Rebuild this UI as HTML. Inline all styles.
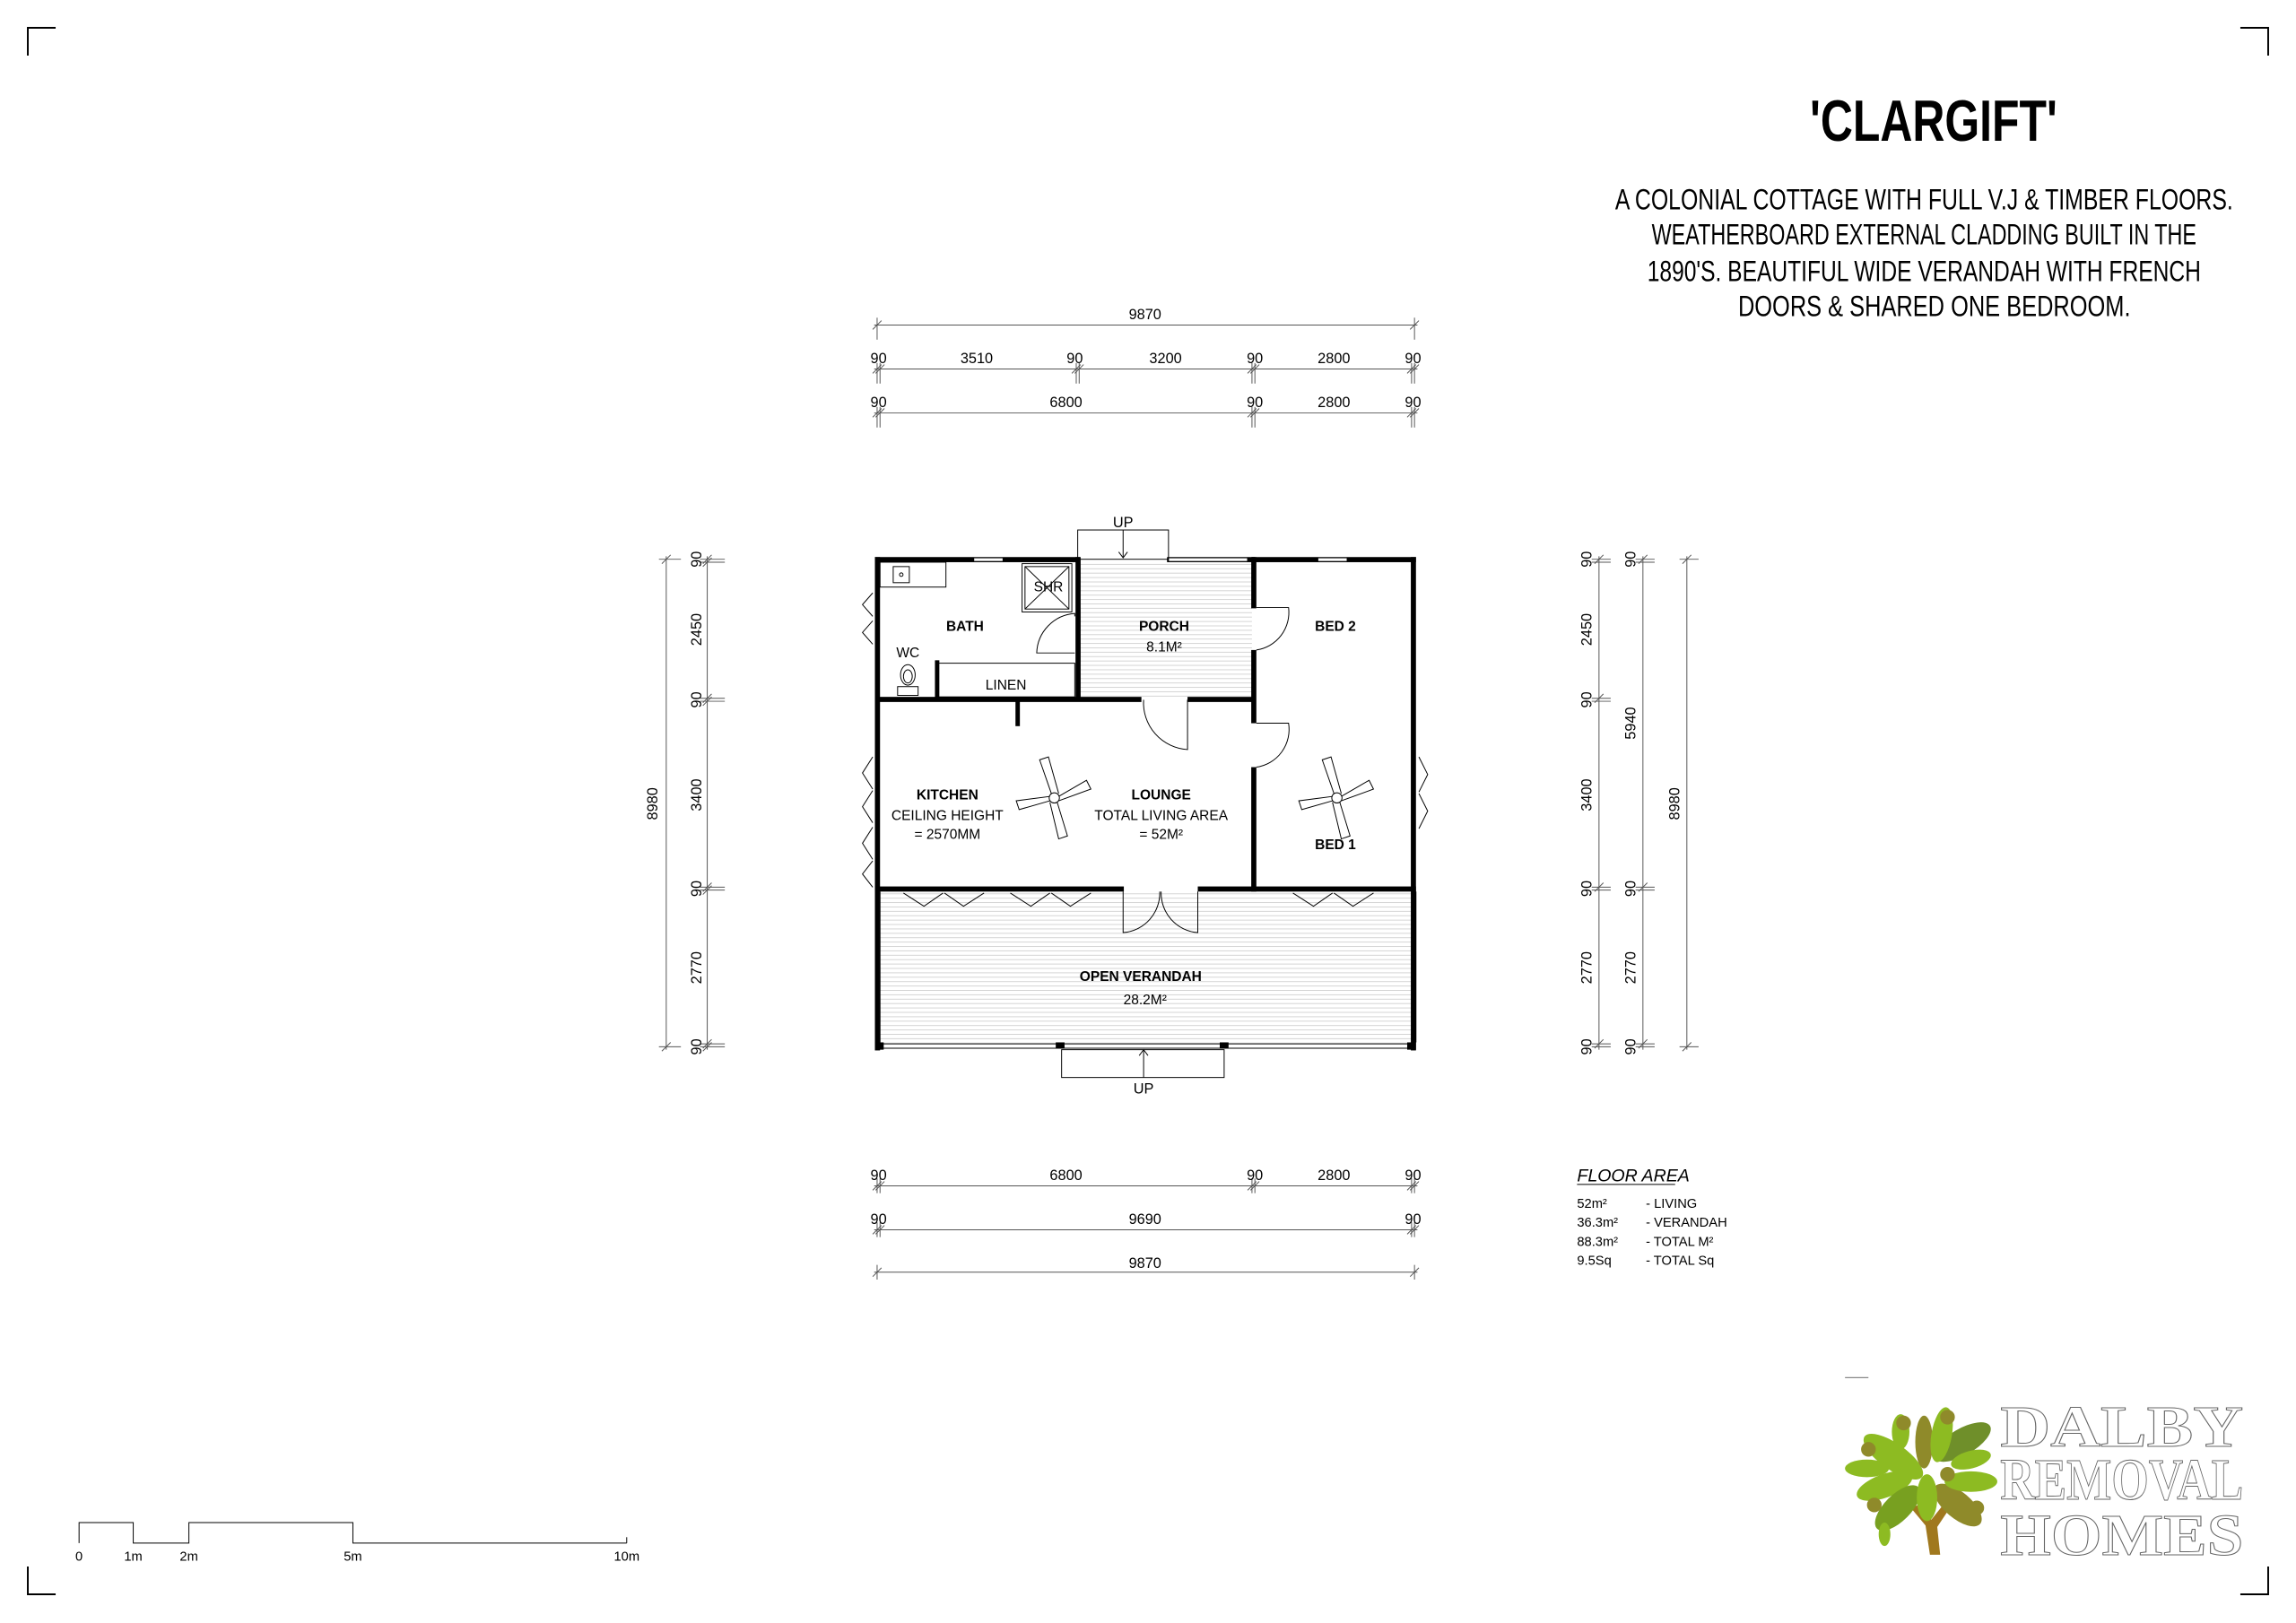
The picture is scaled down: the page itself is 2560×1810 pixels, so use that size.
<!DOCTYPE html>
<html><head><meta charset="utf-8"><style>
html,body{margin:0;padding:0;background:#fff;}
svg{display:block;}
text{font-family:"Liberation Sans Narrow","Liberation Sans",sans-serif;fill:#000;}
text.logo{font-family:"Liberation Serif",serif;fill:#fff;stroke:#666;stroke-width:0.6;font-weight:bold;}
</style></head><body>
<svg width="2560" height="1810" viewBox="0 0 1568 1108.6" xmlns="http://www.w3.org/2000/svg">
<defs>
<pattern id="hatch" width="4" height="3" patternUnits="userSpaceOnUse"><line x1="0" y1="1.5" x2="4" y2="1.5" stroke="#d4d4d4" stroke-width="0.6"/></pattern>
</defs>
<rect x="0" y="0" width="1568" height="1108.6" fill="#fff"/>
<g stroke="#000" stroke-width="1.2" fill="none">
<path d="M19 38V19H38"/><path d="M1530 19H1549V38"/><path d="M19 1070V1089H38"/><path d="M1530 1089H1549V1070"/>
</g>
<text x="1236" y="96" font-size="40" font-weight="bold" textLength="169" lengthAdjust="spacingAndGlyphs">'CLARGIFT'</text>
<g font-size="20">
<text x="1103" y="143" textLength="422" lengthAdjust="spacingAndGlyphs">A COLONIAL COTTAGE WITH FULL V.J &amp; TIMBER FLOORS.</text>
<text x="1128" y="167" textLength="372" lengthAdjust="spacingAndGlyphs">WEATHERBOARD EXTERNAL CLADDING BUILT IN THE</text>
<text x="1125" y="192" textLength="378" lengthAdjust="spacingAndGlyphs">1890'S. BEAUTIFUL WIDE VERANDAH WITH FRENCH</text>
<text x="1187" y="216" textLength="268" lengthAdjust="spacingAndGlyphs">DOORS &amp; SHARED ONE BEDROOM.</text>
</g>
<g stroke="#555" stroke-width="0.6" fill="none">
<line x1="597" y1="222" x2="968" y2="222"/><line x1="599" y1="217" x2="599" y2="232"/><line x1="966" y1="217" x2="966" y2="232"/>
<line x1="597" y1="252" x2="968" y2="252"/><line x1="597" y1="282" x2="968" y2="282"/>
<path d="M599 248V262M601 248V262M735 248V262M737 248V262M855 248V262M857 248V262M964 248V262M966 248V262"/>
<path d="M599 278V292M601 278V292M855 278V292M857 278V292M964 278V292M966 278V292"/>
<path d="M596 225l6-6M963 225l6-6M596 255l6-6M598 255l6-6M732 255l6-6M734 255l6-6M852 255l6-6M854 255l6-6M961 255l6-6M963 255l6-6M596 285l6-6M598 285l6-6M852 285l6-6M854 285l6-6M961 285l6-6M963 285l6-6"/>
<line x1="597" y1="810" x2="968" y2="810"/><line x1="597" y1="840" x2="968" y2="840"/><line x1="597" y1="869" x2="968" y2="869"/>
<path d="M599 805V815M601 805V815M855 805V815M857 805V815M964 805V815M966 805V815M599 835V845M601 835V845M964 835V845M966 835V845M599 864V874M966 864V874"/>
<path d="M596 813l6-6M598 813l6-6M852 813l6-6M854 813l6-6M961 813l6-6M963 813l6-6M596 843l6-6M598 843l6-6M961 843l6-6M963 843l6-6M596 872l6-6M963 872l6-6"/>
<line x1="483" y1="380" x2="483" y2="717"/><line x1="455" y1="380" x2="455" y2="717"/>
<path d="M478 382H495M478 384H495M478 477H495M478 479H495M478 606H495M478 608H495M478 713H495M478 715H495M450 382H465M450 715H465"/>
<path d="M480 385l6-6M480 387l6-6M480 480l6-6M480 482l6-6M480 609l6-6M480 611l6-6M480 716l6-6M480 718l6-6M452 385l6-6M452 718l6-6"/>
<line x1="1092" y1="380" x2="1092" y2="717"/><line x1="1122" y1="380" x2="1122" y2="717"/><line x1="1152" y1="380" x2="1152" y2="717"/>
<path d="M1087 382H1100M1087 384H1100M1087 477H1100M1087 479H1100M1087 606H1100M1087 608H1100M1087 713H1100M1087 715H1100M1117 382H1130M1117 384H1130M1117 606H1130M1117 608H1130M1117 713H1130M1117 715H1130M1147 382H1160M1147 715H1160"/>
<path d="M1089 385l6-6M1089 480l6-6M1089 609l6-6M1089 716l6-6M1119 385l6-6M1119 609l6-6M1119 716l6-6M1149 385l6-6M1149 718l6-6"/>
</g>
<g font-size="10" text-anchor="middle">
<text x="782" y="218">9870</text>
<text x="600" y="248">90</text><text x="667" y="248">3510</text><text x="734" y="248">90</text><text x="796" y="248">3200</text><text x="857" y="248">90</text><text x="911" y="248">2800</text><text x="965" y="248">90</text>
<text x="600" y="278">90</text><text x="728" y="278">6800</text><text x="857" y="278">90</text><text x="911" y="278">2800</text><text x="965" y="278">90</text>
<text x="600" y="806">90</text><text x="728" y="806">6800</text><text x="857" y="806">90</text><text x="911" y="806">2800</text><text x="965" y="806">90</text>
<text x="600" y="836">90</text><text x="782" y="836">9690</text><text x="965" y="836">90</text>
<text x="782" y="866">9870</text>
<text x="767" y="360">UP</text><text x="781" y="747">UP</text>
</g>
<g font-size="10" text-anchor="middle">
<text transform="translate(479,382) rotate(-90)">90</text><text transform="translate(479,430) rotate(-90)">2450</text><text transform="translate(479,478) rotate(-90)">90</text><text transform="translate(479,543) rotate(-90)">3400</text><text transform="translate(479,607) rotate(-90)">90</text><text transform="translate(479,661) rotate(-90)">2770</text><text transform="translate(479,715) rotate(-90)">90</text>
<text transform="translate(449,549) rotate(-90)">8980</text>
<text transform="translate(1087,382) rotate(-90)">90</text><text transform="translate(1087,430) rotate(-90)">2450</text><text transform="translate(1087,478) rotate(-90)">90</text><text transform="translate(1087,543) rotate(-90)">3400</text><text transform="translate(1087,607) rotate(-90)">90</text><text transform="translate(1087,661) rotate(-90)">2770</text><text transform="translate(1087,715) rotate(-90)">90</text>
<text transform="translate(1117,382) rotate(-90)">90</text><text transform="translate(1117,494) rotate(-90)">5940</text><text transform="translate(1117,607) rotate(-90)">90</text><text transform="translate(1117,661) rotate(-90)">2770</text><text transform="translate(1117,715) rotate(-90)">90</text>
<text transform="translate(1147,549) rotate(-90)">8980</text>
</g>
<rect x="737" y="384" width="118" height="93" fill="url(#hatch)"/>
<rect x="601" y="609" width="364" height="105" fill="url(#hatch)"/>
<g fill="#000">
<rect x="597.5" y="380.5" width="140" height="3.5"/>
<rect x="797" y="380.5" width="60" height="3.5"/>
<rect x="855" y="380.5" width="112" height="3.5"/>
<rect x="597.5" y="380.5" width="3.5" height="337"/>
<rect x="963.5" y="380.5" width="3.5" height="337"/>
<rect x="734.5" y="380.5" width="3.5" height="96"/>
<rect x="854.5" y="380.5" width="3.5" height="35"/>
<rect x="854.5" y="444" width="3.5" height="50"/>
<rect x="854.5" y="524" width="3.5" height="85"/>
<rect x="597.5" y="476" width="182" height="3.5"/>
<rect x="811" y="476" width="46" height="3.5"/>
<rect x="597.5" y="605.5" width="170" height="3.5"/>
<rect x="818" y="605.5" width="149" height="3.5"/>
<rect x="638.5" y="451" width="3" height="27"/>
<rect x="693.5" y="478" width="3" height="18"/>
<rect x="597.5" y="712" width="6" height="5"/>
<rect x="961" y="712" width="6" height="5"/>
<rect x="721" y="712" width="6" height="4"/>
<rect x="833" y="712" width="6" height="4"/>
</g>
<g stroke="#000" stroke-width="0.6" fill="none">
<line x1="603" y1="713" x2="961" y2="713"/><line x1="603" y1="716" x2="961" y2="716"/>
<line x1="601" y1="609" x2="601" y2="712"/><line x1="964" y1="609" x2="964" y2="712"/><line x1="967" y1="609" x2="967" y2="712"/>
<rect x="736" y="362" width="62" height="20"/><line x1="767" y1="362" x2="767" y2="381"/><path d="M764 377l3 4 3-4"/>
<rect x="725" y="717" width="111" height="19"/><line x1="781" y1="736" x2="781" y2="717"/><path d="M778 721l3-4 3 4"/>
<rect x="665" y="381" width="20" height="2.5" fill="#fff"/><rect x="798" y="381" width="54" height="2.5" fill="#fff"/><rect x="900" y="381" width="20" height="2.5" fill="#fff"/>
<rect x="601" y="384" width="45" height="17"/><rect x="610" y="387" width="11" height="11"/><circle cx="615.5" cy="392.5" r="1.2"/>
<rect x="640" y="453" width="94" height="23"/>
<rect x="698" y="385" width="34" height="33"/><rect x="700" y="387" width="30" height="29"/><path d="M700 387L730 416M730 387L700 416"/>
<ellipse cx="620" cy="461" rx="5" ry="7"/><ellipse cx="620" cy="462" rx="3" ry="4.5"/><rect x="613" y="469" width="14" height="6"/>
<path d="M734 421v-2a28 28 0 0 0-26 27h26"/>
<path d="M858 415h22a26 26 0 0 1-22 29"/>
<path d="M858 494h22a26 26 0 0 1-22 30"/>
<path d="M811 478V512A32 32 0 0 1 781 478"/>
<path d="M767 609V637A27 27 0 0 0 792 609M818 609V637A27 27 0 0 1 793 609"/>
<path d="M617 608h55M617 610l14 9 13-9M672 610l-14 9-13-9M690 608h55M690 610l14 9 13-9M745 610l-14 9-13-9M883 608h55M883 610l14 9 13-9M938 610l-14 9-13-9"/>
<path d="M599 403V445M596 405l-7 8 7 8M596 424l-7 8 7 8"/>
<path d="M599 515V607M596 517l-7 11 7 11M596 540l-7 11 7 11M596 565l-7 11 7 11M596 588l-7 9 7 9"/>
<path d="M966 515V570M969 517l6 12-6 12M969 542l6 12-6 12"/>
<g transform="translate(720,545)"><circle r="3.5"/><path d="M-2-3L-10-26L-4-28L3-3M3 -1L22-12L25-6L3 2M2 3L9 26L3 28L-3 3M-3 2L-24 8L-26 2L-3-1"/></g>
<g transform="translate(913,545)"><circle r="3.5"/><path d="M-2-3L-10-26L-4-28L3-3M3 -1L22-12L25-6L3 2M2 3L9 26L3 28L-3 3M-3 2L-24 8L-26 2L-3-1"/></g>
</g>
<g font-size="9.5" text-anchor="middle">
<text x="659" y="431" font-weight="bold">BATH</text>
<text x="716" y="404">SHR</text>
<text x="620" y="449">WC</text>
<text x="687" y="471">LINEN</text>
<text x="795" y="431" font-weight="bold">PORCH</text>
<text x="795" y="445">8.1M²</text>
<text x="912" y="431" font-weight="bold">BED 2</text>
<text x="647" y="546" font-weight="bold">KITCHEN</text>
<text x="647" y="560">CEILING HEIGHT</text>
<text x="647" y="573">= 2570MM</text>
<text x="793" y="546" font-weight="bold">LOUNGE</text>
<text x="793" y="560">TOTAL LIVING AREA</text>
<text x="793" y="573">= 52M²</text>
<text x="912" y="580" font-weight="bold">BED 1</text>
<text x="779" y="670" font-weight="bold">OPEN VERANDAH</text>
<text x="782" y="686">28.2M²</text>
</g>
<text x="1077" y="807" font-size="12" font-style="italic">FLOOR AREA</text>
<line x1="1077" y1="809" x2="1144" y2="809" stroke="#000" stroke-width="0.6"/>
<g font-size="9">
<text x="1077" y="825">52m²</text><text x="1124" y="825">- LIVING</text>
<text x="1077" y="838">36.3m²</text><text x="1124" y="838">- VERANDAH</text>
<text x="1077" y="851">88.3m²</text><text x="1124" y="851">- TOTAL M²</text>
<text x="1077" y="864">9.5Sq</text><text x="1124" y="864">- TOTAL Sq</text>
</g>
<g stroke="#000" stroke-width="0.6" fill="none">
<path d="M54 1054V1040H91V1054H129V1040H241V1054H428"/><line x1="428" y1="1054" x2="428" y2="1050"/>
</g>
<g font-size="9" text-anchor="middle"><text x="54" y="1066">0</text><text x="91" y="1066">1m</text><text x="129" y="1066">2m</text><text x="241" y="1066">5m</text><text x="428" y="1066">10m</text></g>
<line x1="1260" y1="941" x2="1276" y2="941" stroke="#888" stroke-width="0.8"/>
<g>
<path d="M1318 1062l-3-20-10-12 5-2 9 10 8-10 4 3-8 12 2 19z" fill="#a0781e"/>
<ellipse cx="1293" cy="995" rx="24" ry="9" transform="rotate(35 1293 995)" fill="#8dbb22"/>
<ellipse cx="1340" cy="985" rx="22" ry="9" transform="rotate(-30 1340 985)" fill="#6f8f2a"/>
<ellipse cx="1314" cy="985" rx="6" ry="18" fill="#8f8a2a"/>
<ellipse cx="1326" cy="980" rx="7" ry="19" transform="rotate(10 1326 980)" fill="#8dbb22"/>
<ellipse cx="1298" cy="978" rx="6" ry="12" fill="#8dbb22"/>
<ellipse cx="1287" cy="1015" rx="20" ry="8" transform="rotate(-20 1287 1015)" fill="#8dbb22"/>
<ellipse cx="1296" cy="1030" rx="20" ry="9" transform="rotate(-45 1296 1030)" fill="#78a020"/>
<ellipse cx="1337" cy="1028" rx="20" ry="9" transform="rotate(40 1337 1028)" fill="#8f8a2a"/>
<ellipse cx="1316" cy="1023" rx="7" ry="16" fill="#8dbb22"/>
<ellipse cx="1346" cy="1012" rx="18" ry="7" fill="#8dbb22"/>
<ellipse cx="1346" cy="997" rx="14" ry="6" transform="rotate(-15 1346 997)" fill="#8dbb22"/>
<ellipse cx="1275" cy="1003" rx="15" ry="6" fill="#8dbb22"/>
<circle cx="1276" cy="990" r="5" fill="#8f8a2a"/><circle cx="1330" cy="968" r="5" fill="#8f8a2a"/><circle cx="1300" cy="972" r="5" fill="#8f8a2a"/><circle cx="1330" cy="1007" r="5" fill="#8f8a2a"/><circle cx="1280" cy="1028" r="5" fill="#8f8a2a"/><circle cx="1350" cy="1030" r="5" fill="#8f8a2a"/>
<ellipse cx="1287" cy="1048" rx="4" ry="8" fill="#8dbb22"/>
</g>
<g font-size="40">
<text class="logo" x="1366" y="988" textLength="166" lengthAdjust="spacingAndGlyphs">DALBY</text>
<text class="logo" x="1366" y="1024" textLength="166" lengthAdjust="spacingAndGlyphs">REMOVAL</text>
<text class="logo" x="1366" y="1062" textLength="166" lengthAdjust="spacingAndGlyphs">HOMES</text>
</g>
</svg>
</body></html>
